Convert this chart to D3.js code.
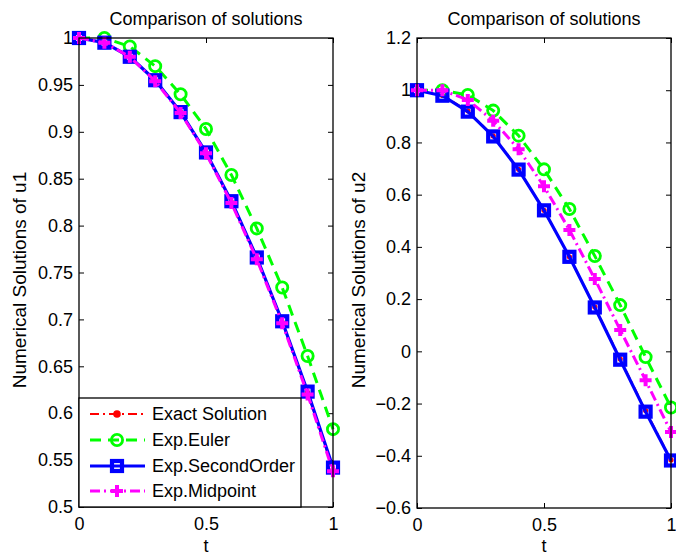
<!DOCTYPE html>
<html>
<head>
<meta charset="utf-8">
<script src="https://cdn.jsdelivr.net/npm/d3@7"></script>
<style>
  html, body { margin: 0; padding: 0; background: #fff; }
  svg { display: block; font-family: "Liberation Sans", Arial, sans-serif; }
</style>
</head>
<body>
<svg id="fig" width="676" height="558"></svg>
<script>
// Time grid
const t = [0, 0.1, 0.2, 0.3, 0.4, 0.5, 0.6, 0.7, 0.8, 0.9, 1.0];

// Component u1
const u1Exact     = [1, 0.995, 0.980, 0.955, 0.921, 0.878, 0.825, 0.765, 0.697, 0.622, 0.540];
const u1Euler     = [1, 1.000, 0.991, 0.970, 0.940, 0.903, 0.854, 0.797, 0.734, 0.661, 0.583];
const u1Second    = [1, 0.995, 0.980, 0.955, 0.921, 0.878, 0.826, 0.766, 0.698, 0.623, 0.542];
const u1Midpoint  = [1, 0.995, 0.980, 0.954, 0.920, 0.877, 0.824, 0.764, 0.696, 0.620, 0.538];

// Component u2
const u2Exact     = [1, 0.980, 0.921, 0.825, 0.697, 0.540, 0.362, 0.170, -0.029, -0.227, -0.416];
const u2Euler     = [1, 1.000, 0.982, 0.922, 0.826, 0.697, 0.545, 0.365, 0.177, -0.022, -0.215];
const u2Second    = [1, 0.979, 0.918, 0.823, 0.696, 0.540, 0.362, 0.168, -0.032, -0.231, -0.418];
const u2Midpoint  = [1, 1.000, 0.963, 0.883, 0.774, 0.632, 0.465, 0.277, 0.082, -0.111, -0.309];

// Axis ticks
const xTicks = [0, 0.5, 1];
const u1Ticks = [0.5, 0.55, 0.6, 0.65, 0.7, 0.75, 0.8, 0.85, 0.9, 0.95, 1];
const u2Ticks = [-0.6, -0.4, -0.2, 0, 0.2, 0.4, 0.6, 0.8, 1, 1.2];

const seriesNames = ["Exact Solution", "Exp.Euler", "Exp.SecondOrder", "Exp.Midpoint"];

// Line/marker styles per method
const styles = [
  { color: "#ff0000", width: 2, dash: "9,4,2,4", marker: "dot" },
  { color: "#00ff00", width: 3, dash: "11,7", marker: "circle" },
  { color: "#0000ff", width: 3.2, dash: null, marker: "square" },
  { color: "#ff00ff", width: 3, dash: "10,4,2,4", marker: "plus" }
];

const svg = d3.select("#fig");
const FONT = 18;

function fmt(v) {
  const s = (Math.round(v * 100) / 100).toString();
  return s.replace("-", "\u2212");
}

function drawMarker(g, kind, x, y, st, inLegend) {
  if (kind === "dot") {
    g.append("circle").attr("cx", x).attr("cy", y).attr("r", inLegend ? 3.8 : 2.6)
      .attr("fill", st.color);
  } else if (kind === "circle") {
    g.append("circle").attr("cx", x).attr("cy", y).attr("r", 5.6)
      .attr("fill", "none").attr("stroke", st.color).attr("stroke-width", 2.8);
  } else if (kind === "square") {
    g.append("rect").attr("x", x - 5).attr("y", y - 5)
      .attr("width", 10).attr("height", 10)
      .attr("fill", "none").attr("stroke", st.color).attr("stroke-width", 4.2);
  } else if (kind === "plus") {
    const h = 6;
    g.append("path").attr("d", `M${x - h},${y}H${x + h}M${x},${y - h}V${y + h}`)
      .attr("stroke", st.color).attr("stroke-width", 4).attr("fill", "none");
  }
}

function panel(opts) {
  const { left, right, top, bottom, domain, ticks, series, title, ylabel, ylabelX, legend } = opts;
  const x = d3.scaleLinear().domain([0, 1]).range([left, right]);
  const y = d3.scaleLinear().domain(domain).range([bottom, top]);
  const g = svg.append("g");

  // clip series to the axes box (with room for markers at the edges)
  const clipId = "clip" + Math.round(left);
  g.append("clipPath").attr("id", clipId)
    .append("rect").attr("x", left - 8).attr("y", top - 8)
    .attr("width", right - left + 16).attr("height", bottom - top + 16);

  // axes with inward ticks on all sides
  const tickLen = 5;
  g.append("g").attr("transform", `translate(0,${bottom})`)
    .call(d3.axisBottom(x).tickValues(xTicks).tickSizeInner(-tickLen).tickSizeOuter(0)
      .tickPadding(10).tickFormat(d => d3.format("")(d)))
    .call(a => a.select(".domain").remove());
  g.append("g").attr("transform", `translate(0,${top})`)
    .call(d3.axisTop(x).tickValues(xTicks).tickSizeInner(-tickLen).tickSizeOuter(0).tickFormat(""))
    .call(a => a.select(".domain").remove());
  g.append("g").attr("transform", `translate(${left},0)`)
    .call(d3.axisLeft(y).tickValues(ticks).tickSizeInner(-tickLen).tickSizeOuter(0)
      .tickPadding(6).tickFormat(fmt))
    .call(a => a.select(".domain").remove());
  g.append("g").attr("transform", `translate(${right},0)`)
    .call(d3.axisRight(y).tickValues(ticks).tickSizeInner(-tickLen).tickSizeOuter(0).tickFormat(""))
    .call(a => a.select(".domain").remove());

  g.selectAll(".tick line").attr("stroke", "#000").attr("stroke-width", 1);
  g.selectAll(".tick text").attr("font-size", FONT).attr("fill", "#000")
    .attr("font-family", "Liberation Sans, Arial, sans-serif");

  // data layer
  const data = g.append("g").attr("clip-path", `url(#${clipId})`);
  const line = d3.line().x((d, i) => x(t[i])).y(d => y(d));
  series.forEach((vals, k) => {
    const st = styles[k];
    const sg = data.append("g");
    sg.append("path").datum(vals).attr("d", line)
      .attr("fill", "none").attr("stroke", st.color).attr("stroke-width", st.width)
      .attr("stroke-dasharray", st.dash).attr("stroke-linejoin", "round");
    vals.forEach((v, i) => drawMarker(sg, st.marker, x(t[i]), y(v), st, false));
  });

  // frame
  g.append("rect").attr("x", left).attr("y", top)
    .attr("width", right - left).attr("height", bottom - top)
    .attr("fill", "none").attr("stroke", "#000").attr("stroke-width", 1.3);

  // title and labels
  g.append("text").attr("x", (left + right) / 2).attr("y", 25)
    .attr("text-anchor", "middle").attr("font-size", FONT).text(title);
  g.append("text").attr("x", (left + right) / 2).attr("y", 552)
    .attr("text-anchor", "middle").attr("font-size", FONT).text("t");
  g.append("text")
    .attr("transform", `translate(${ylabelX},280) rotate(-90)`)
    .attr("text-anchor", "middle").attr("dy", "0.35em").attr("font-size", 19).text(ylabel);

  if (legend) {
    const lx = left, ly = 398, lw = 222, lh = bottom - 398;
    const lg = g.append("g");
    lg.append("rect").attr("x", lx).attr("y", ly).attr("width", lw).attr("height", lh)
      .attr("fill", "#fff").attr("stroke", "#000").attr("stroke-width", 1.3);
    const rowY = [414, 440, 466, 491];
    seriesNames.forEach((name, k) => {
      const st = styles[k];
      const yy = rowY[k];
      lg.append("line").attr("x1", lx + 11).attr("x2", lx + 66).attr("y1", yy).attr("y2", yy)
        .attr("stroke", st.color).attr("stroke-width", st.width)
        .attr("stroke-dasharray", st.dash);
      drawMarker(lg, st.marker, lx + 38, yy, st, true);
      lg.append("text").attr("x", lx + 73).attr("y", yy).attr("dy", "0.35em")
        .attr("font-size", FONT).text(name);
    });
  }
}

panel({
  left: 79, right: 333, top: 38, bottom: 507,
  domain: [0.5, 1], ticks: u1Ticks,
  series: [u1Exact, u1Euler, u1Second, u1Midpoint],
  title: "Comparison of solutions",
  ylabel: "Numerical Solutions of u1", ylabelX: 19,
  legend: true
});

panel({
  left: 417, right: 671, top: 38, bottom: 508,
  domain: [-0.6, 1.2], ticks: u2Ticks,
  series: [u2Exact, u2Euler, u2Second, u2Midpoint],
  title: "Comparison of solutions",
  ylabel: "Numerical Solutions of u2", ylabelX: 358,
  legend: false
});
</script>
</body>
</html>
